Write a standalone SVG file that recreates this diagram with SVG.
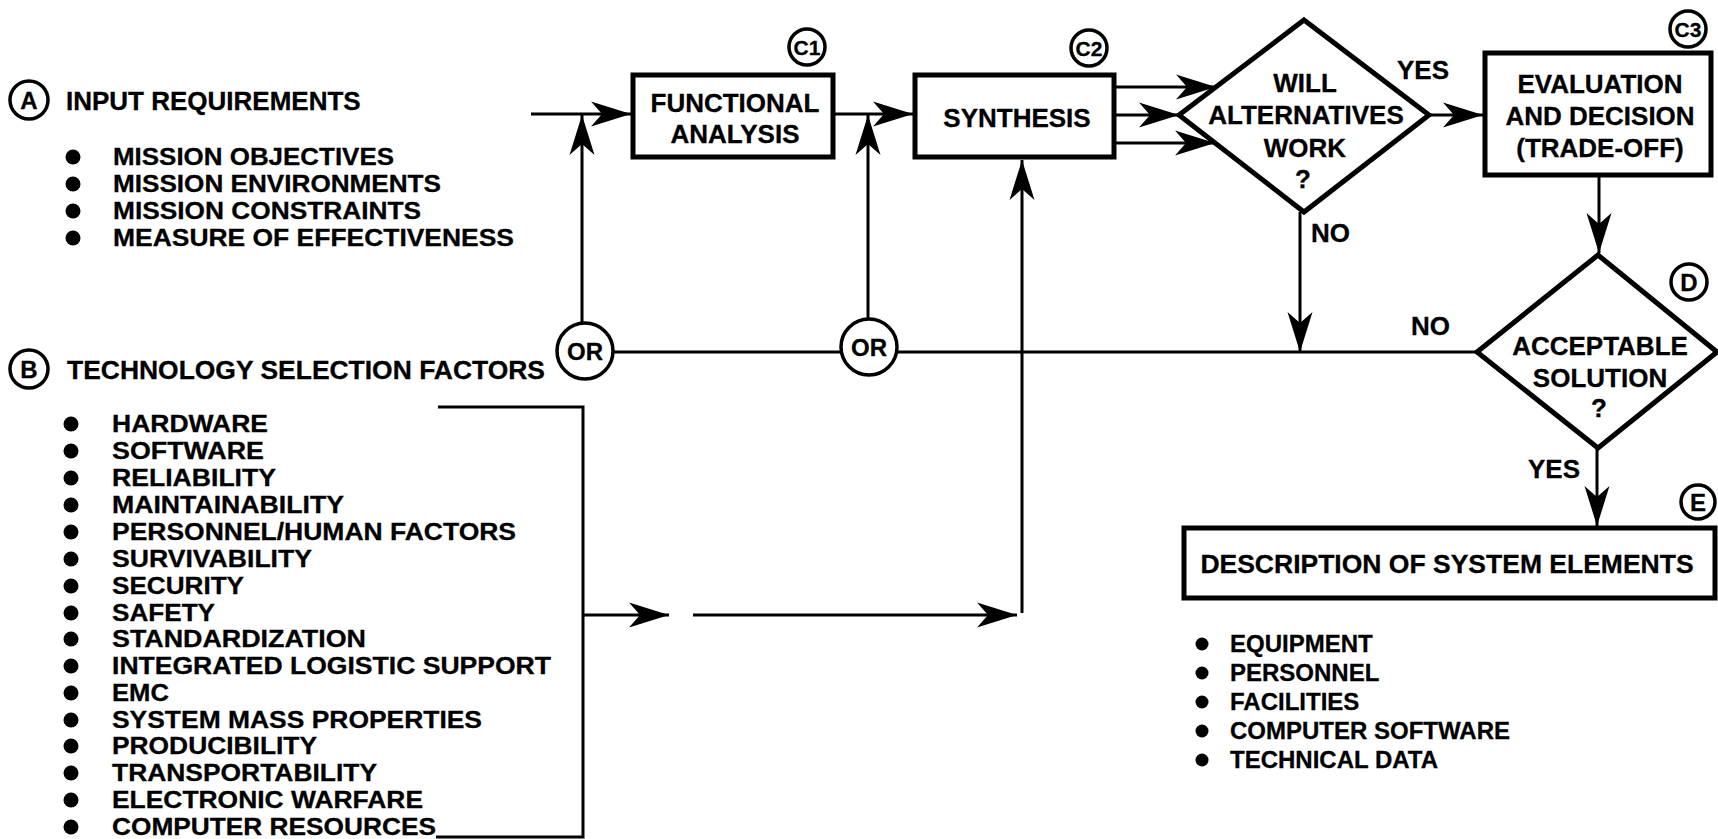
<svg xmlns="http://www.w3.org/2000/svg" width="1718" height="839" viewBox="0 0 1718 839">
<style>
text{font-family:"Liberation Sans",Arial,sans-serif;font-weight:bold;fill:#000;stroke:#000;stroke-width:0.3}
.t{font-size:26px}
.s{font-size:24px}
.c{text-anchor:middle}
.box{fill:#fff;stroke:#000;stroke-width:5}
.ring{fill:#fff;stroke:#000;stroke-width:3.5}
.ln{fill:none;stroke:#000;stroke-width:3}
.lnA{fill:none;stroke:#000;stroke-width:3;marker-end:url(#ah)}
.dot{fill:#000}
</style>
<defs>
<marker id="ah" viewBox="-42 -15 44 30" refX="0" refY="0" markerWidth="44" markerHeight="30" markerUnits="userSpaceOnUse" orient="auto">
<path d="M0,0 L-40,-12.5 L-29,0 L-40,12.5 Z" fill="#000"/>
</marker>
</defs>
<rect width="1718" height="839" fill="#fff"/>

<g id="connectors">
<line class="lnA" x1="531" y1="114" x2="631" y2="114"/>
<line class="lnA" x1="582" y1="323" x2="582" y2="115"/>
<line class="lnA" x1="833" y1="114" x2="913" y2="114"/>
<line class="lnA" x1="868" y1="318" x2="868" y2="115"/>
<line class="lnA" x1="1022" y1="613" x2="1022" y2="160"/>
<line class="lnA" x1="1114" y1="87" x2="1216" y2="87"/>
<line class="lnA" x1="1114" y1="115" x2="1179" y2="115"/>
<line class="lnA" x1="1114" y1="143" x2="1215" y2="143"/>
<line class="lnA" x1="1429" y1="115" x2="1483" y2="115"/>
<line class="lnA" x1="1599" y1="175" x2="1599" y2="253"/>
<line class="lnA" x1="1300" y1="212" x2="1300" y2="352"/>
<line class="ln" x1="613" y1="352" x2="841" y2="352"/>
<line class="ln" x1="897" y1="352" x2="1477" y2="352"/>
<line class="lnA" x1="1597" y1="448" x2="1597" y2="526"/>
<polyline class="ln" points="438,407 583,407 583,837 436,837"/>
<line class="lnA" x1="583" y1="615" x2="669" y2="615"/>
<line class="lnA" x1="693" y1="615" x2="1017" y2="615"/>
</g>

<g id="A">
<circle class="ring" cx="29" cy="100" r="19"/>
<text class="s c" x="29" y="109">A</text>
<text class="t" x="66" y="110">INPUT REQUIREMENTS</text>
</g>
<g id="A-list">
<circle class="dot" cx="73" cy="157" r="7.5"/><text class="s" x="113" y="165" textLength="281" lengthAdjust="spacingAndGlyphs">MISSION OBJECTIVES</text>
<circle class="dot" cx="73" cy="184" r="7.5"/><text class="s" x="113" y="192" textLength="328" lengthAdjust="spacingAndGlyphs">MISSION ENVIRONMENTS</text>
<circle class="dot" cx="73" cy="211" r="7.5"/><text class="s" x="113" y="219" textLength="308" lengthAdjust="spacingAndGlyphs">MISSION CONSTRAINTS</text>
<circle class="dot" cx="73" cy="238" r="7.5"/><text class="s" x="113" y="246" textLength="401" lengthAdjust="spacingAndGlyphs">MEASURE OF EFFECTIVENESS</text>
</g>

<g id="B">
<circle class="ring" cx="29" cy="369" r="19"/>
<text class="s c" x="29" y="378">B</text>
<text class="t" x="67" y="379" textLength="478" lengthAdjust="spacingAndGlyphs">TECHNOLOGY SELECTION FACTORS</text>
</g>
<g id="B-list">
<circle class="dot" cx="71" cy="424" r="7.5"/><text class="s" x="112" y="432" textLength="156" lengthAdjust="spacingAndGlyphs">HARDWARE</text>
<circle class="dot" cx="71" cy="451" r="7.5"/><text class="s" x="112" y="459" textLength="152" lengthAdjust="spacingAndGlyphs">SOFTWARE</text>
<circle class="dot" cx="71" cy="478" r="7.5"/><text class="s" x="112" y="486" textLength="164" lengthAdjust="spacingAndGlyphs">RELIABILITY</text>
<circle class="dot" cx="71" cy="505" r="7.5"/><text class="s" x="112" y="513" textLength="232" lengthAdjust="spacingAndGlyphs">MAINTAINABILITY</text>
<circle class="dot" cx="71" cy="532" r="7.5"/><text class="s" x="112" y="540" textLength="404" lengthAdjust="spacingAndGlyphs">PERSONNEL/HUMAN FACTORS</text>
<circle class="dot" cx="71" cy="559" r="7.5"/><text class="s" x="112" y="567" textLength="200" lengthAdjust="spacingAndGlyphs">SURVIVABILITY</text>
<circle class="dot" cx="71" cy="586" r="7.5"/><text class="s" x="112" y="594" textLength="132" lengthAdjust="spacingAndGlyphs">SECURITY</text>
<circle class="dot" cx="71" cy="613" r="7.5"/><text class="s" x="112" y="621" textLength="103" lengthAdjust="spacingAndGlyphs">SAFETY</text>
<circle class="dot" cx="71" cy="639" r="7.5"/><text class="s" x="112" y="647" textLength="254" lengthAdjust="spacingAndGlyphs">STANDARDIZATION</text>
<circle class="dot" cx="71" cy="666" r="7.5"/><text class="s" x="112" y="674" textLength="439" lengthAdjust="spacingAndGlyphs">INTEGRATED LOGISTIC SUPPORT</text>
<circle class="dot" cx="71" cy="693" r="7.5"/><text class="s" x="112" y="701" textLength="57" lengthAdjust="spacingAndGlyphs">EMC</text>
<circle class="dot" cx="71" cy="720" r="7.5"/><text class="s" x="112" y="728" textLength="370" lengthAdjust="spacingAndGlyphs">SYSTEM MASS PROPERTIES</text>
<circle class="dot" cx="71" cy="746" r="7.5"/><text class="s" x="112" y="754" textLength="205" lengthAdjust="spacingAndGlyphs">PRODUCIBILITY</text>
<circle class="dot" cx="71" cy="773" r="7.5"/><text class="s" x="112" y="781" textLength="265" lengthAdjust="spacingAndGlyphs">TRANSPORTABILITY</text>
<circle class="dot" cx="71" cy="800" r="7.5"/><text class="s" x="112" y="808" textLength="311" lengthAdjust="spacingAndGlyphs">ELECTRONIC WARFARE</text>
<circle class="dot" cx="71" cy="827" r="7.5"/><text class="s" x="112" y="835" textLength="324" lengthAdjust="spacingAndGlyphs">COMPUTER RESOURCES</text>
</g>

<g id="or1">
<circle class="ring" cx="585" cy="351" r="28"/>
<text class="s c" x="585" y="360">OR</text>
</g>
<g id="or2">
<circle class="ring" cx="869" cy="347" r="28"/>
<text class="s c" x="869" y="356">OR</text>
</g>

<g id="C1">
<rect class="box" x="633" y="75" width="200" height="82"/>
<text class="t c" x="735" y="112">FUNCTIONAL</text>
<text class="t c" x="735" y="143">ANALYSIS</text>
<circle class="ring" cx="807" cy="47" r="18"/>
<text class="c" style="font-size:21px" x="807" y="55">C1</text>
</g>

<g id="C2">
<rect class="box" x="915" y="75" width="199" height="82"/>
<text class="t c" x="1017" y="127">SYNTHESIS</text>
<circle class="ring" cx="1089" cy="48" r="18"/>
<text class="c" style="font-size:21px" x="1089" y="56">C2</text>
</g>

<g id="decision1">
<polygon class="box" points="1304,20 1429,115 1304,212 1179,115"/>
<text class="t c" x="1305" y="92">WILL</text>
<text class="t c" x="1306" y="124">ALTERNATIVES</text>
<text class="t c" x="1305" y="157">WORK</text>
<text class="t c" x="1303" y="188">?</text>
<text class="t" x="1397" y="79">YES</text>
<text class="t" x="1311" y="242">NO</text>
</g>

<g id="C3">
<rect class="box" x="1485" y="53" width="226" height="122"/>
<text class="t c" x="1600" y="93">EVALUATION</text>
<text class="t c" x="1600" y="125">AND DECISION</text>
<text class="t c" x="1600" y="157">(TRADE-OFF)</text>
<circle class="ring" cx="1688" cy="29" r="18"/>
<text class="c" style="font-size:21px" x="1688" y="37">C3</text>
</g>

<g id="D">
<polygon class="box" points="1598,255 1717,352 1598,448 1477,352"/>
<text class="t c" x="1600" y="355">ACCEPTABLE</text>
<text class="t c" x="1600" y="387">SOLUTION</text>
<text class="t c" x="1599" y="417">?</text>
<circle class="ring" cx="1689" cy="282" r="18"/>
<text class="s c" x="1689" y="291">D</text>
<text class="t" x="1411" y="335">NO</text>
<text class="t" x="1528" y="478">YES</text>
</g>

<g id="E">
<rect class="box" x="1184" y="528" width="531" height="70"/>
<text class="c" style="font-size:26.5px" x="1447" y="573">DESCRIPTION OF SYSTEM ELEMENTS</text>
<circle class="ring" cx="1698" cy="502" r="17"/>
<text class="s c" x="1698" y="511">E</text>
</g>
<g id="E-list">
<circle class="dot" cx="1202" cy="644" r="6.5"/><text class="s" x="1230" y="652">EQUIPMENT</text>
<circle class="dot" cx="1202" cy="673" r="6.5"/><text class="s" x="1230" y="681">PERSONNEL</text>
<circle class="dot" cx="1202" cy="702" r="6.5"/><text class="s" x="1230" y="710">FACILITIES</text>
<circle class="dot" cx="1202" cy="731" r="6.5"/><text class="s" x="1230" y="739">COMPUTER SOFTWARE</text>
<circle class="dot" cx="1202" cy="760" r="6.5"/><text class="s" x="1230" y="768">TECHNICAL DATA</text>
</g>
</svg>
